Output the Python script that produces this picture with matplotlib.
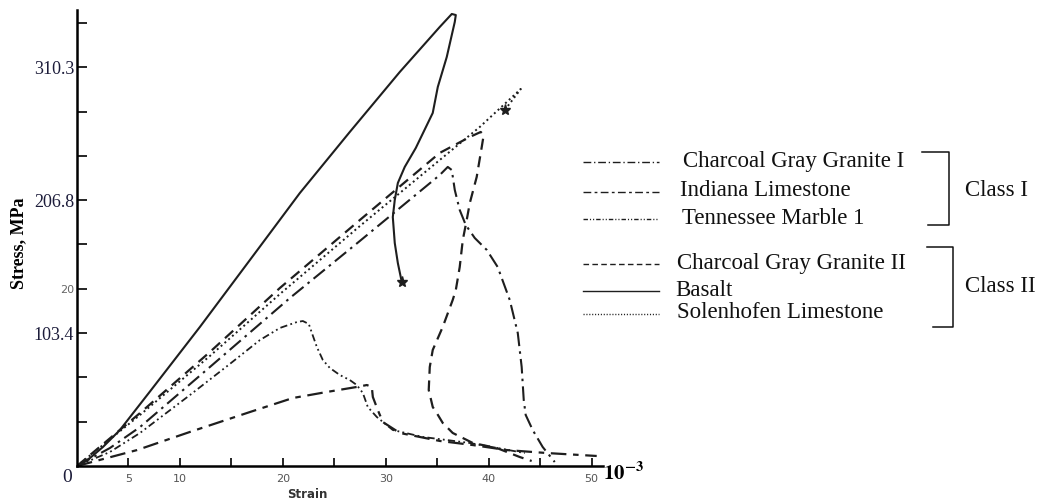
import matplotlib.pyplot as plt
from matplotlib.lines import Line2D

plt.rcParams['mathtext.fontset'] = 'stix'

# strain in units of 1e-3, stress in MPa
basalt_strain = [0, 1.26, 2.52, 4.17, 7.09, 11.94, 16.80, 21.65, 26.50, 31.36, 35.24, 36.41,
                 36.80, 36.70, 35.92, 35.05, 34.56, 32.91, 31.84, 31.17, 30.87, 30.68, 30.87,
                 31.17, 31.55]
basalt_stress = [0, 6.2, 14.8, 28.0, 58.0, 108.2, 160.3, 212.4, 259.9, 306.6, 341.6, 351.7,
                 350.9, 345.5, 318.2, 294.9, 274.7, 247.4, 232.7, 220.2, 207.0, 193.7, 173.5,
                 157.9, 143.2]

solen_strain = [0, 6.12, 12.91, 19.71, 27.48, 35.24, 39.13, 43.11, 42.23, 41.55]
solen_stress = [0, 39.7, 85.6, 133.8, 186.7, 238.1, 263.8, 293.3, 284.0, 277.0]

ggII_strain = [0, 6.12, 12.91, 19.71, 27.48, 35.24, 38.16, 39.22, 39.51, 39.32, 38.83, 38.16,
               37.86, 37.48, 37.18, 36.80, 36.50, 35.53, 34.56, 34.27, 34.17, 34.56, 34.95,
               35.53, 36.50, 38.45, 40.78, 43.01, 44.17]
ggII_stress = [0, 41.2, 88.7, 138.5, 191.4, 243.6, 256.0, 259.9, 257.6, 248.2, 224.9, 204.6,
               191.4, 175.9, 154.8, 136.9, 129.2, 108.2, 90.3, 77.0, 59.1, 45.9, 41.2,
               33.5, 25.7, 17.9, 14.0, 7.0, 3.9]

ggI_strain = [0, 3.20, 6.12, 12.91, 20.68, 27.48, 35.24, 36.02, 36.41, 36.70, 37.18, 37.77,
              38.64, 39.81, 40.87, 42.04, 42.82, 43.20, 43.40, 43.59, 44.27, 45.24, 46.41]
ggI_stress = [0, 14.0, 30.3, 77.0, 130.7, 175.1, 226.4, 232.7, 230.3, 214.8, 199.2, 187.5,
              177.4, 168.1, 154.8, 129.2, 103.5, 77.0, 51.4, 39.7, 28.0, 14.8, 3.1]

tenn_strain = [0, 3.20, 6.12, 10.97, 14.85, 17.77, 19.71, 21.36, 21.94, 22.52, 22.82, 23.30,
               23.88, 24.56, 25.53, 26.50, 27.18, 27.77, 28.25, 29.13, 30.68, 33.59, 38.16, 43.50]
tenn_stress = [0, 10.9, 25.7, 55.2, 79.4, 98.0, 107.4, 112.0, 112.8, 110.5, 103.5, 92.6,
               82.5, 76.3, 70.8, 66.9, 63.0, 56.8, 45.9, 38.1, 28.0, 22.6, 17.9, 10.1]

indiana_strain = [0, 5.83, 10.97, 16.80, 20.97, 24.27, 27.18, 28.16, 28.64, 28.74, 29.22,
                  29.71, 31.36, 35.24, 38.45, 41.75, 45.63, 50.49]
indiana_stress = [0, 12.4, 26.5, 42.0, 52.9, 57.6, 61.5, 63.0, 61.5, 53.7, 43.6,
                  34.2, 25.7, 19.5, 16.3, 12.4, 10.1, 7.8]

x_ticks = [5, 10, 15, 20, 25, 30, 35, 40, 45, 50]
x_tick_labels = ['5', '10', '', '20', '', '30', '', '40', '', '50']
y_ticks = [34.47, 68.95, 103.4, 137.9, 172.4, 206.8, 241.3, 275.8, 310.3, 344.7]
y_tick_labels = ['', '', '103.4', '20', '', '206.8', '', '', '310.3', '']

class_I = ['Charcoal Gray Granite I', 'Indiana Limestone', 'Tennessee Marble 1']
class_II = ['Charcoal Gray Granite II', 'Basalt', 'Solenhofen Limestone']

ink = '#1e1e1e'
W, H = 1041, 503
fig = plt.figure(figsize=(W / 100, H / 100), dpi=100)
ax = fig.add_axes([77 / W, 1 - 466 / H, (603 - 77) / W, (466 - 10) / H])

# dash pattern per curve
styles = {
    'ggI': dict(dashes=(7, 2.5, 1.2, 2.5), lw=1.5),
    'indiana': dict(dashes=(7, 3, 2.5, 3), lw=1.6),
    'tenn': dict(dashes=(4, 1.8, 1, 1.8, 1, 1.8), lw=1.3),
    'ggII': dict(dashes=(5, 3), lw=1.6),
    'basalt': dict(ls='-', lw=1.5),
    'solen': dict(dashes=(1, 1.6), lw=1.4),
}

ax.plot(basalt_strain, basalt_stress, color=ink, **styles['basalt'])
ax.plot(solen_strain, solen_stress, color=ink, **styles['solen'])
ax.plot(ggII_strain, ggII_stress, color=ink, **styles['ggII'])
ax.plot(ggI_strain, ggI_stress, color=ink, **styles['ggI'])
ax.plot(tenn_strain, tenn_stress, color=ink, **styles['tenn'])
ax.plot(indiana_strain, indiana_stress, color=ink, **styles['indiana'])

# failure points
ax.plot(basalt_strain[-1], basalt_stress[-1], marker='*', ms=8, color=ink)
ax.plot(solen_strain[-1], solen_stress[-1], marker='*', ms=8, color=ink)

ax.set_xlim(0, 51.1)
ax.set_ylim(0, 354.8)
for side in ('top', 'right'):
    ax.spines[side].set_visible(False)
for side in ('left', 'bottom'):
    ax.spines[side].set_linewidth(1.8)
    ax.spines[side].set_color('black')

ax.set_xticks(x_ticks)
ax.set_xticklabels(x_tick_labels, fontsize=8, color='#555555', family='DejaVu Sans')
ax.tick_params(axis='x', direction='in', length=6, width=1.2, pad=6)
ax.set_yticks(y_ticks)
ax.set_yticklabels(y_tick_labels, fontsize=13, color='#1c1c3a', family='Liberation Serif')
ax.tick_params(axis='y', direction='in', length=7, width=1.2, pad=2)
for lab in ax.get_yticklabels():
    if lab.get_text() == '20':
        lab.set_fontsize(8)
        lab.set_color('#666666')
        lab.set_family('DejaVu Sans')

# overlay in pixel coordinates for labels, legend and brackets
ov = fig.add_axes([0, 0, 1, 1])
ov.set_xlim(0, W)
ov.set_ylim(H, 0)
ov.axis('off')

ov.text(67, 478, '0', fontsize=14, family='Liberation Serif', color='#1c1c3a',
        ha='center', va='center')
ov.text(307, 495, 'Strain', fontsize=8.5, fontweight='bold', family='DejaVu Sans',
        color='#333333', ha='center', va='center')
ov.text(603, 473, r'$\mathbf{10^{-3}}$', fontsize=15, ha='left', va='center')
ov.text(19, 243, 'Stress, MPa', fontsize=13, fontweight='bold', family='Liberation Serif',
        rotation=90, ha='center', va='center')

legend_rows = [
    (class_I[0], 'ggI', 162, 683),
    (class_I[1], 'indiana', 192, 680),
    (class_I[2], 'tenn', 219, 682),
    (class_II[0], 'ggII', 264, 677),
    (class_II[1], 'basalt', 291, 675),
    (class_II[2], 'solen', 314, 677),
]
for name, key, y, tx in legend_rows:
    st = dict(styles[key])
    st['lw'] = 1.0
    if 'dashes' in st:
        st['dashes'] = tuple(d * 0.8 for d in st['dashes'])
    ov.add_line(Line2D([583, 659], [y, y], color=ink, **st))
    ov.text(tx, y - 1, name, fontsize=16.5, family='Liberation Serif', color='#111111',
            ha='left', va='center')

# class brackets
ov.plot([922, 949, 949, 928], [152, 152, 225, 225], color='#111111', lw=1.1)
ov.plot([927, 953, 953, 933], [247, 247, 327, 327], color='#111111', lw=1.1)
ov.text(965, 191, 'Class I', fontsize=16.5, family='Liberation Serif', color='#111111',
        ha='left', va='center')
ov.text(965, 286, 'Class II', fontsize=16.5, family='Liberation Serif', color='#111111',
        ha='left', va='center')

fig.savefig('out.png', dpi=100)
